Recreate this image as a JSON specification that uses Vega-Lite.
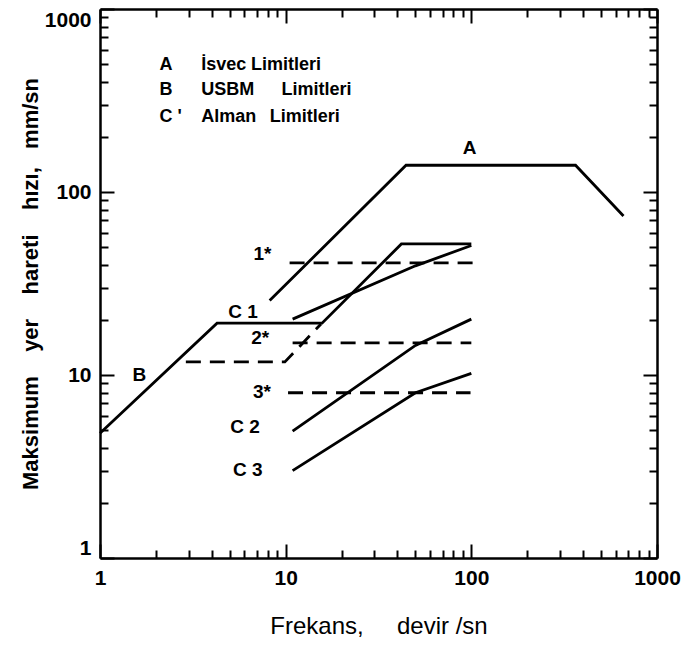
{
  "$schema": "https://vega.github.io/schema/vega-lite/v6.json",
  "width": 557,
  "height": 549,
  "autosize": {"type": "none"},
  "padding": {"left": 100, "top": 9, "right": 27, "bottom": 87},
  "background": "white",
  "config": {
    "view": {"stroke": null},
    "axis": {
      "domainColor": "black",
      "domainWidth": 2.5,
      "tickColor": "black",
      "tickWidth": 2,
      "grid": false,
      "labelFont": "Liberation Sans",
      "labelFontWeight": "bold",
      "labelFontSize": 21,
      "labelColor": "black",
      "titleColor": "black"
    }
  },
  "datasets": {
    "solid": [
      {"s": "A", "o": 1, "x": 8.2, "y": 25.5},
      {"s": "A", "o": 2, "x": 44.5, "y": 140},
      {"s": "A", "o": 3, "x": 364, "y": 140},
      {"s": "A", "o": 4, "x": 660, "y": 74},
      {"s": "B", "o": 1, "x": 1, "y": 4.8},
      {"s": "B", "o": 2, "x": 4.27, "y": 19.2},
      {"s": "B", "o": 3, "x": 15.7, "y": 19.2},
      {"s": "B", "o": 4, "x": 42, "y": 52},
      {"s": "B", "o": 5, "x": 100, "y": 52},
      {"s": "C1", "o": 1, "x": 10.9, "y": 20.2},
      {"s": "C1", "o": 2, "x": 50, "y": 39.5},
      {"s": "C1", "o": 3, "x": 100, "y": 51},
      {"s": "C2", "o": 1, "x": 10.9, "y": 4.94},
      {"s": "C2", "o": 2, "x": 50, "y": 14.5},
      {"s": "C2", "o": 3, "x": 100, "y": 20.2},
      {"s": "C3", "o": 1, "x": 10.9, "y": 3.0},
      {"s": "C3", "o": 2, "x": 50, "y": 8},
      {"s": "C3", "o": 3, "x": 100, "y": 10.2}
    ],
    "dashed": [
      {"s": "DB", "o": 1, "x": 2.9, "y": 11.8},
      {"s": "DB", "o": 2, "x": 9.9, "y": 11.8},
      {"s": "DB", "o": 3, "x": 15.5, "y": 19},
      {"s": "D1", "o": 1, "x": 10.5, "y": 41},
      {"s": "D1", "o": 2, "x": 111, "y": 41},
      {"s": "D2", "o": 1, "x": 10.9, "y": 15},
      {"s": "D2", "o": 2, "x": 100, "y": 15},
      {"s": "D3", "o": 1, "x": 10.3, "y": 8},
      {"s": "D3", "o": 2, "x": 99, "y": 8}
    ],
    "labels": [
      {"t": "A", "x": 98, "y": 174},
      {"t": "B", "x": 1.63, "y": 10},
      {"t": "1*", "x": 7.5, "y": 46},
      {"t": "C 1", "x": 5.9, "y": 22.2},
      {"t": "2*", "x": 7.3, "y": 15.9},
      {"t": "3*", "x": 7.45, "y": 8.1},
      {"t": "C 2", "x": 6.05, "y": 5.2},
      {"t": "C 3", "x": 6.25, "y": 3.03}
    ],
    "legend": [
      {"t": "A", "x": 2.09, "y": 494},
      {"t": "İsvec", "x": 3.51, "y": 494},
      {"t": "Limitleri", "x": 6.5, "y": 494},
      {"t": "B", "x": 2.09, "y": 361},
      {"t": "USBM", "x": 3.51, "y": 361},
      {"t": "Limitleri", "x": 9.5, "y": 361},
      {"t": "C '", "x": 2.09, "y": 257},
      {"t": "Alman", "x": 3.51, "y": 257},
      {"t": "Limitleri", "x": 8.2, "y": 257}
    ]
  },
  "resolve": {"axis": {"x": "independent", "y": "independent"}},
  "layer": [
    {
      "data": {"name": "solid"},
      "mark": {"type": "line", "color": "black", "strokeWidth": 2.8, "strokeJoin": "miter"},
      "encoding": {
        "x": {
          "field": "x", "type": "quantitative",
          "scale": {"type": "log", "domain": [1, 1000], "nice": false},
          "axis": {
            "orient": "bottom",
            "values": [1,2,3,4,5,6,7,8,9,10,20,30,40,50,60,70,80,90,100,200,300,400,500,600,700,800,900,1000],
            "tickSize": {"condition": {"test": "datum.value==1||datum.value==10||datum.value==100||datum.value==1000", "value": -14}, "value": -8},
            "labelExpr": "(datum.value==1||datum.value==10||datum.value==100||datum.value==1000) ? format(datum.value,'d') : ''",
            "labelPadding": 23,
            "labelFlush": false,
            "labelOverlap": false,
            "title": "Frekans,\u00a0\u00a0\u00a0\u00a0\u00a0devir /sn",
            "titleFont": "Liberation Sans",
            "titleFontWeight": "normal",
            "titleFontSize": 24,
            "titlePadding": 20
          }
        },
        "y": {
          "field": "y", "type": "quantitative",
          "scale": {"type": "log", "domain": [1, 1000], "nice": false},
          "axis": {
            "orient": "left",
            "values": [1,2,3,4,5,6,7,8,9,10,20,30,40,50,60,70,80,90,100,200,300,400,500,600,700,800,900,1000],
            "tickSize": {"condition": {"test": "datum.value==1||datum.value==10||datum.value==100||datum.value==1000", "value": -14}, "value": -8},
            "labelExpr": "(datum.value==1||datum.value==10||datum.value==100||datum.value==1000) ? format(datum.value,'d') : ''",
            "labelPadding": 23,
            "labelFlush": true,
            "labelOverlap": false,
            "title": "Maksimum\u00a0\u00a0\u00a0\u00a0yer\u00a0\u00a0\u00a0\u00a0hareti\u00a0\u00a0\u00a0\u00a0hızı,\u00a0\u00a0\u00a0mm/sn",
            "titleFont": "Liberation Sans",
            "titleFontWeight": "bold",
            "titleFontSize": 22,
            "titlePadding": 2
          }
        },
        "detail": {"field": "s"},
        "order": {"field": "o"}
      }
    },
    {
      "data": {"name": "dashed"},
      "mark": {"type": "line", "color": "black", "strokeWidth": 2.8, "strokeDash": [15, 9]},
      "encoding": {
        "x": {
          "field": "x", "type": "quantitative",
          "scale": {"type": "log", "domain": [1, 1000], "nice": false},
          "axis": {
            "orient": "top",
            "values": [1,2,3,4,5,6,7,8,9,10,20,30,40,50,60,70,80,90,100,200,300,400,500,600,700,800,900,1000],
            "tickSize": {"condition": {"test": "datum.value==1||datum.value==10||datum.value==100||datum.value==1000", "value": -14}, "value": -8},
            "labels": false,
            "title": null
          }
        },
        "y": {
          "field": "y", "type": "quantitative",
          "scale": {"type": "log", "domain": [1, 1000], "nice": false},
          "axis": {
            "orient": "right",
            "values": [1,2,3,4,5,6,7,8,9,10,20,30,40,50,60,70,80,90,100,200,300,400,500,600,700,800,900,1000],
            "tickSize": {"condition": {"test": "datum.value==1||datum.value==10||datum.value==100||datum.value==1000", "value": -14}, "value": -8},
            "labels": false,
            "title": null
          }
        },
        "detail": {"field": "s"},
        "order": {"field": "o"}
      }
    },
    {
      "data": {"name": "labels"},
      "mark": {"type": "text", "font": "Liberation Sans", "fontWeight": "bold", "fontSize": 19, "align": "center", "baseline": "middle", "color": "black"},
      "encoding": {
        "x": {"field": "x", "type": "quantitative", "scale": {"type": "log", "domain": [1, 1000], "nice": false}, "axis": null},
        "y": {"field": "y", "type": "quantitative", "scale": {"type": "log", "domain": [1, 1000], "nice": false}, "axis": null},
        "text": {"field": "t"}
      }
    },
    {
      "data": {"name": "legend"},
      "mark": {"type": "text", "font": "Liberation Sans", "fontWeight": "bold", "fontSize": 18, "align": "left", "baseline": "middle", "color": "black"},
      "encoding": {
        "x": {"field": "x", "type": "quantitative", "scale": {"type": "log", "domain": [1, 1000], "nice": false}, "axis": null},
        "y": {"field": "y", "type": "quantitative", "scale": {"type": "log", "domain": [1, 1000], "nice": false}, "axis": null},
        "text": {"field": "t"}
      }
    }
  ]
}
